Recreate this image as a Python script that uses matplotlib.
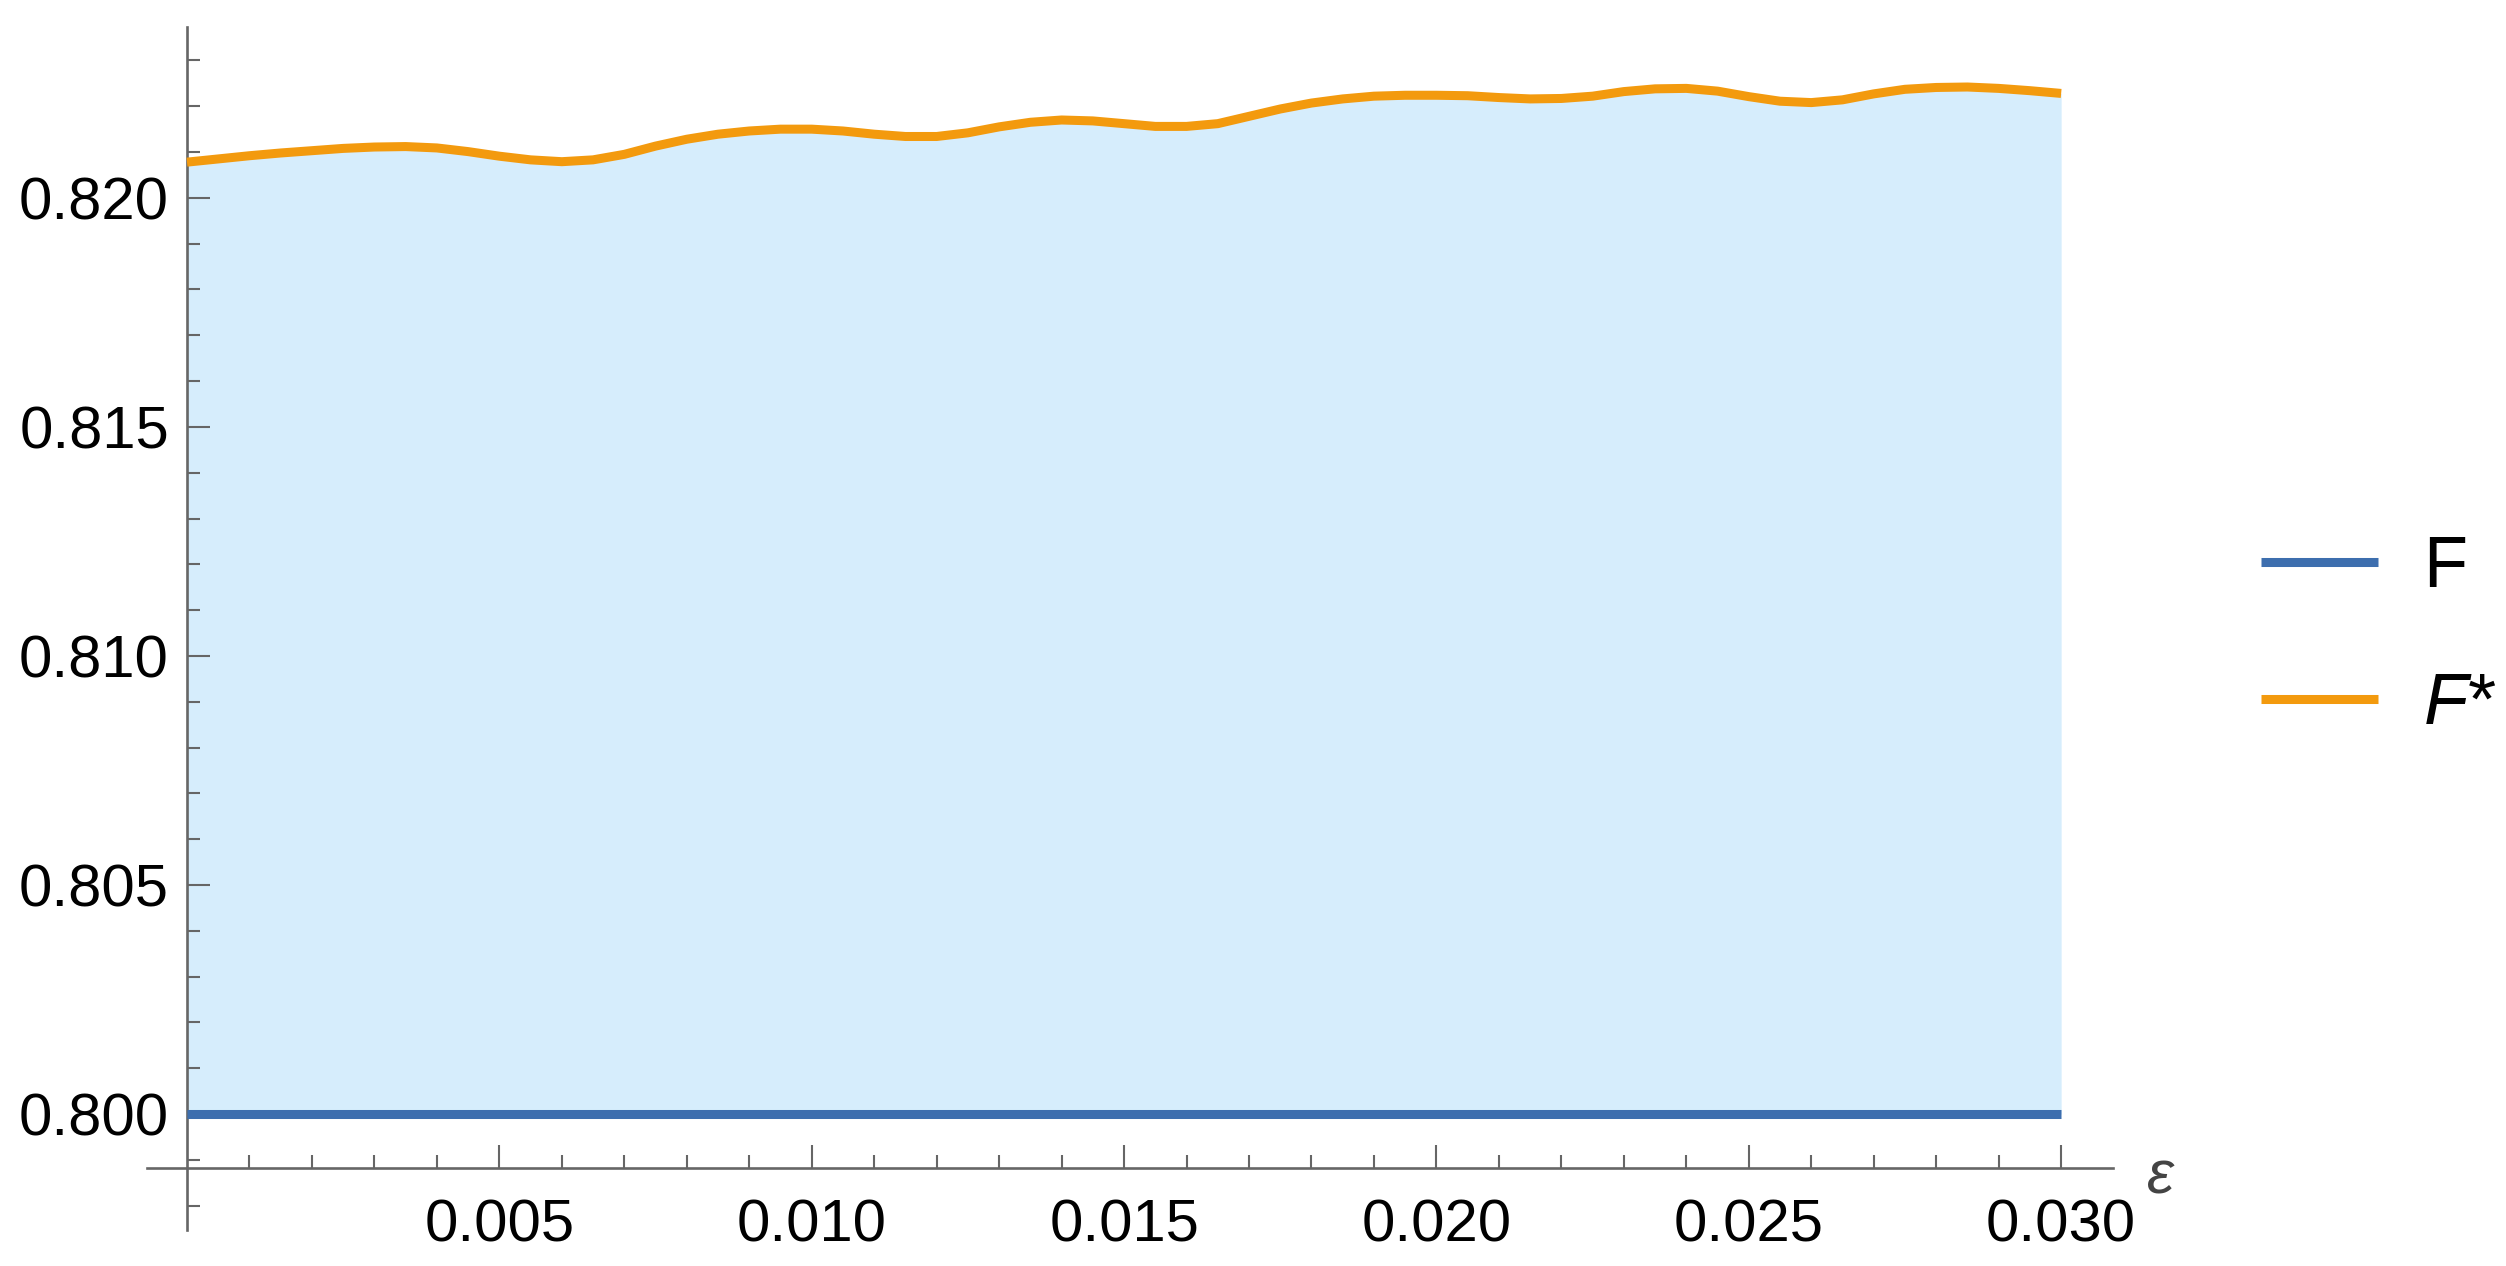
import numpy as np
import matplotlib
matplotlib.use("Agg")
import matplotlib.pyplot as plt
from matplotlib.ticker import FixedLocator, FormatStrFormatter

# ---- data ----
eps = [0.0000, 0.0005, 0.0010, 0.0015, 0.0020, 0.0025, 0.0030, 0.0035, 0.0040, 0.0045,
       0.0050, 0.0055, 0.0060, 0.0065, 0.0070, 0.0075, 0.0080, 0.0085, 0.0090, 0.0095,
       0.0100, 0.0105, 0.0110, 0.0115, 0.0120, 0.0125, 0.0130, 0.0135, 0.0140, 0.0145,
       0.0150, 0.0155, 0.0160, 0.0165, 0.0170, 0.0175, 0.0180, 0.0185, 0.0190, 0.0195,
       0.0200, 0.0205, 0.0210, 0.0215, 0.0220, 0.0225, 0.0230, 0.0235, 0.0240, 0.0245,
       0.0250, 0.0255, 0.0260, 0.0265, 0.0270, 0.0275, 0.0280, 0.0285, 0.0290, 0.0295,
       0.0300]
f_star = [0.82078, 0.82085, 0.82092, 0.82098, 0.82103, 0.82108, 0.82111, 0.82112, 0.82109, 0.82101,
          0.82091, 0.82083, 0.82079, 0.82083, 0.82095, 0.82113, 0.82128, 0.82139, 0.82146, 0.82150,
          0.82150, 0.82146, 0.82139, 0.82134, 0.82134, 0.82142, 0.82155, 0.82165, 0.82170, 0.82168,
          0.82162, 0.82156, 0.82156, 0.82162, 0.82178, 0.82194, 0.82207, 0.82216, 0.82222, 0.82224,
          0.82224, 0.82223, 0.82219, 0.82216, 0.82217, 0.82222, 0.82232, 0.82238, 0.82239, 0.82233,
          0.82221, 0.82211, 0.82208, 0.82214, 0.82227, 0.82237, 0.82241, 0.82242, 0.82239, 0.82234,
          0.82228]
f_value = 0.800
f_line = [f_value] * len(eps)
y_major_ticks = [0.800, 0.805, 0.810, 0.815, 0.820]
x_major_ticks = [0.005, 0.010, 0.015, 0.020, 0.025, 0.030]
labels = ["F", "$F$*"]

# ---- style ----
plt.rcParams['font.family'] = ['Liberation Sans', 'DejaVu Sans']
plt.rcParams['mathtext.fontset'] = 'custom'
plt.rcParams['mathtext.rm'] = 'Liberation Sans'
plt.rcParams['mathtext.it'] = 'Liberation Sans:italic'

W, H = 2506, 1266
fig = plt.figure(figsize=(W / 100, H / 100), dpi=100)
left, right, top, bottom = 147, 2113, 27, 1230
ax = fig.add_axes([left / W, 1 - bottom / H, (right - left) / W, (bottom - top) / H])

blue = '#3d6eae'
orange = '#f39a0e'
fill_c = '#d6edfc'
axis_c = '#666666'

ax.fill_between(eps, f_line, f_star, color=fill_c, lw=0, zorder=1)
ax.plot(eps, f_line, color=blue, lw=6.5, solid_capstyle='butt', label=labels[0], zorder=3)
ax.plot(eps, f_star, color=orange, lw=6.5, solid_capstyle='butt', label=labels[1], zorder=3)

ax.set_xlim(-0.00064, 0.03083)
ax.set_ylim(0.79747, 0.82373)

for s in ['top', 'right']:
    ax.spines[s].set_visible(False)
ax.spines['left'].set_position(('data', 0.0))
ax.spines['bottom'].set_position(('data', 0.79882))
for s in ['left', 'bottom']:
    ax.spines[s].set_color(axis_c)
    ax.spines[s].set_linewidth(1.9)

ax.xaxis.set_major_locator(FixedLocator(x_major_ticks))
ax.xaxis.set_minor_locator(FixedLocator([i / 1000 for i in range(1, 30) if i % 5 != 0]))
ax.yaxis.set_major_locator(FixedLocator(y_major_ticks))
ax.yaxis.set_minor_locator(FixedLocator([0.797 + i / 1000 for i in range(0, 27)
                                         if (797 + i) % 5 != 0]))
ax.xaxis.set_major_formatter(FormatStrFormatter('%.3f'))
ax.yaxis.set_major_formatter(FormatStrFormatter('%.3f'))

ax.tick_params(axis='both', which='major', direction='in', length=16.5, width=1.5,
               color=axis_c, labelsize=43, labelcolor='black')
ax.tick_params(axis='both', which='minor', direction='in', length=9.4, width=1.5, color=axis_c)
ax.tick_params(axis='x', which='major', pad=22)
ax.tick_params(axis='y', which='major', pad=13)

ax.text(0.03138, 0.79860, 'ε', fontsize=44, style='italic', ha='left', va='center',
        color='#444444')

leg = ax.legend(loc='center left', bbox_to_anchor=(2196 / W, 1 - 637 / H),
                bbox_transform=fig.transFigure, frameon=False, fontsize=52,
                handlelength=1.62, handletextpad=0.62, labelspacing=0.97)

fig.savefig('out.png', dpi=100, facecolor='white')
